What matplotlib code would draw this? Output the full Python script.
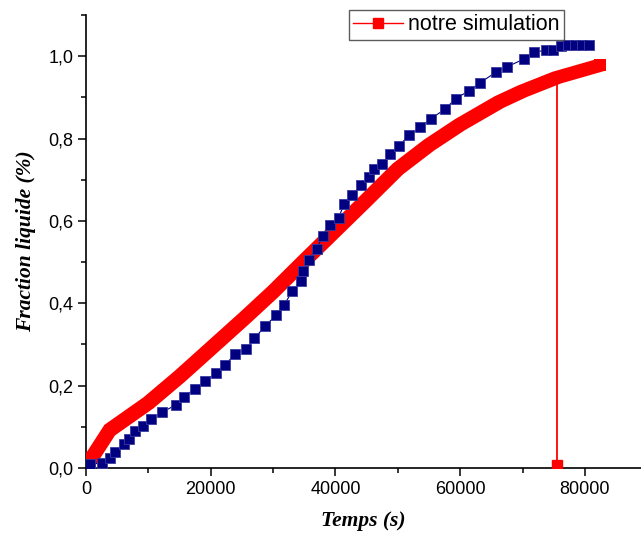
import matplotlib
matplotlib.use("Agg")
import matplotlib.pyplot as plt
import matplotlib.patheffects as pe
from matplotlib.lines import Line2D
from matplotlib.ticker import FixedLocator, MultipleLocator

# Measured liquid fraction (navy squares)
exp_time = [721, 2516, 3894, 4728, 6122, 6923, 7821, 9135, 10497, 12179,
            14375, 15657, 17468, 19151, 20833, 22276, 23926, 25673, 27003, 28766,
            30449, 31811, 33061, 34423, 34856, 35737, 37019, 37949, 39183, 40545,
            41378, 42676, 44022, 45304, 46186, 47484, 48718, 50160, 51811, 53526,
            55288, 57532, 59295, 61426, 63253, 65817, 67516, 70192, 71843, 73718,
            74888, 76234, 77244, 78365, 79487, 80609]
exp_frac = [0.009, 0.013, 0.025, 0.038, 0.058, 0.070, 0.089, 0.103, 0.119, 0.135,
            0.153, 0.173, 0.192, 0.211, 0.231, 0.251, 0.276, 0.288, 0.315, 0.345,
            0.371, 0.397, 0.429, 0.455, 0.479, 0.506, 0.532, 0.564, 0.589, 0.608,
            0.642, 0.662, 0.686, 0.706, 0.725, 0.737, 0.762, 0.782, 0.808, 0.827,
            0.848, 0.871, 0.897, 0.916, 0.936, 0.962, 0.974, 0.993, 1.009, 1.015,
            1.015, 1.025, 1.027, 1.027, 1.027, 1.027]

# Simulated liquid fraction ("notre simulation")
sim_time = [600, 3800, 10000, 15000, 20000, 25500, 30000, 34800, 40000, 45000,
            50000, 55000, 60000, 66300, 70000, 75500, 82400]
sim_frac = [0.017, 0.092, 0.158, 0.222, 0.290, 0.365, 0.428, 0.500, 0.577, 0.651,
            0.726, 0.784, 0.834, 0.889, 0.915, 0.948, 0.978]

# Stray simulation point dropping back to zero
drop_time = [75500, 75500]
drop_frac = [0.948, 0.007]

x_ticks = [0, 20000, 40000, 60000, 80000]
x_tick_labels = ["0", "20000", "40000", "60000", "80000"]
y_ticks = [0.0, 0.2, 0.4, 0.6, 0.8, 1.0]
y_tick_labels = ["0,0", "0,2", "0,4", "0,6", "0,8", "1,0"]

legend_label = "notre simulation"
x_label = "Temps (s)"
y_label = "Fraction liquide (%)"

RED = "#ff0000"
NAVY = "#000080"

fig = plt.figure(figsize=(6.41, 5.40), dpi=100)
ax = fig.add_axes([86 / 641, 72 / 540, 1 - 86 / 641, (468 - 15) / 540])

# Simulation curve: dense square markers sweep a band; emulate with offset strokes
side = 8.0  # marker side in points
step = side / 3.0
lw = side / 3.0 + 0.5
strokes = []
for i in (-1, 0, 1):
    for j in (-1, 0, 1):
        strokes.append(pe.Stroke(offset=(i * step, j * step), linewidth=lw,
                                 foreground=RED, capstyle="butt",
                                 joinstyle="miter"))
ax.plot(sim_time, sim_frac, color=RED, lw=lw, solid_capstyle="butt",
        path_effects=strokes, zorder=3)
ax.plot([sim_time[0], sim_time[-1]], [sim_frac[0], sim_frac[-1]], ls="none",
        marker="s", ms=side + 0.4, color=RED, mec=RED, mew=0, zorder=3)

ax.plot(drop_time, drop_frac, color=RED, lw=1.3, zorder=3)
ax.plot(drop_time[1:], drop_frac[1:], ls="none", marker="s", ms=7,
        color=RED, mec=RED, zorder=4)

# Experimental points
ax.plot(exp_time, exp_frac, color=NAVY, lw=0.8, marker="s", ms=6.6,
        mfc=NAVY, mec="#3a3aa0", mew=0.6, zorder=4)

ax.set_xlim(0, 89000)
ax.set_ylim(0, 1.1)

ax.spines["top"].set_visible(False)
ax.spines["right"].set_visible(False)
for s in ("left", "bottom"):
    ax.spines[s].set_linewidth(1.2)

ax.xaxis.set_major_locator(FixedLocator(x_ticks))
ax.set_xticklabels(x_tick_labels)
ax.xaxis.set_minor_locator(MultipleLocator(10000))
ax.yaxis.set_major_locator(FixedLocator(y_ticks))
ax.set_yticklabels(y_tick_labels)
ax.yaxis.set_minor_locator(MultipleLocator(0.1))

ax.tick_params(which="major", direction="out", length=6, width=1.1,
               labelsize=13, pad=3)
ax.tick_params(which="minor", direction="out", length=3.5, width=1.1)
for lab in ax.get_xticklabels() + ax.get_yticklabels():
    lab.set_fontfamily("Liberation Sans")

label_font = dict(family="Liberation Serif", weight="bold", style="italic",
                  size=15.5)
ax.set_xlabel(x_label, **label_font)
ax.set_ylabel(y_label, **label_font)
ax.xaxis.set_label_coords(0.5, -(511 - 468) / 453)
ax.yaxis.set_label_coords(-(86 - 36) / 555, 0.5)

handle = Line2D([], [], color=RED, lw=1.0, marker="s", ms=7, mfc=RED, mec=RED)
leg = fig.legend([handle], [legend_label], loc="upper left",
                 bbox_to_anchor=(349 / 641, 1 - 10 / 540),
                 bbox_transform=fig.transFigure,
                 prop=dict(family="Liberation Sans", size=15.5),
                 frameon=True, fancybox=False, shadow=False,
                 borderpad=0.2, handlelength=2.3, handletextpad=0.25,
                 borderaxespad=0)
leg.get_frame().set_edgecolor("#333333")
leg.get_frame().set_linewidth(1.0)

fig.savefig("out.png", dpi=100)
